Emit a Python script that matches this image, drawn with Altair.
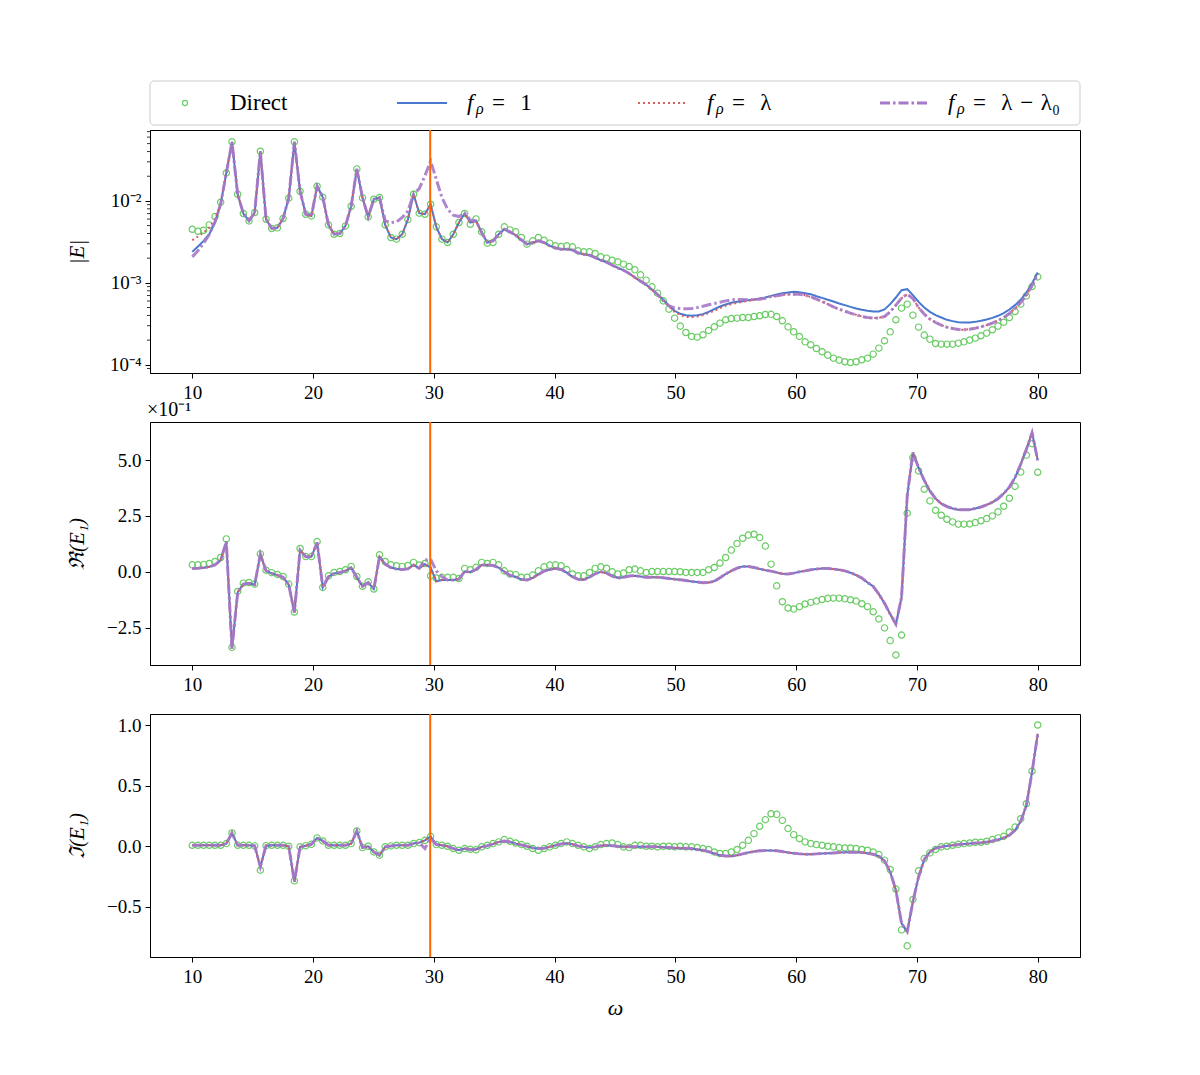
import numpy as np
import pandas as pd
import altair as alt

# ---------------- data ----------------
omega = np.round(np.linspace(10, 80, 150), 5)
omega_cut = 29.7

# panel 1: |E|, stored as log10 values
absE_direct_log10 = [
    -2.346, -2.370, -2.358, -2.293, -2.191, -2.016, -1.659, -1.280, -1.919, -2.154,
    -2.244, -2.142, -1.394, -2.224, -2.337, -2.329, -2.215, -1.967, -1.280, -1.882,
    -2.163, -2.183, -1.821, -1.955, -2.293, -2.407, -2.398, -2.305, -2.065, -1.610,
    -1.963, -2.195, -1.980, -1.959, -2.293, -2.447, -2.467, -2.407, -2.228, -1.919,
    -2.150, -2.163, -2.041, -2.317, -2.467, -2.508, -2.407, -2.264, -2.154, -2.285,
    -2.220, -2.378, -2.516, -2.508, -2.407, -2.317, -2.354, -2.378, -2.447, -2.528,
    -2.488, -2.447, -2.480, -2.516, -2.549, -2.557, -2.549, -2.561, -2.610, -2.622,
    -2.622, -2.642, -2.683, -2.699, -2.724, -2.744, -2.772, -2.801, -2.841, -2.902,
    -2.967, -3.049, -3.126, -3.220, -3.321, -3.431, -3.528, -3.606, -3.654, -3.663,
    -3.634, -3.581, -3.537, -3.492, -3.451, -3.435, -3.431, -3.423, -3.423, -3.411,
    -3.402, -3.386, -3.384, -3.411, -3.463, -3.537, -3.598, -3.654, -3.720, -3.756,
    -3.801, -3.841, -3.882, -3.919, -3.943, -3.963, -3.972, -3.963, -3.939, -3.919,
    -3.870, -3.797, -3.707, -3.598, -3.451, -3.309, -3.260, -3.394, -3.541, -3.638,
    -3.687, -3.740, -3.748, -3.748, -3.748, -3.736, -3.720, -3.699, -3.675, -3.646,
    -3.614, -3.573, -3.528, -3.480, -3.423, -3.350, -3.260, -3.159, -3.045, -2.927,
]
absE_f1_log10 = [
    -2.622, -2.557, -2.488, -2.407, -2.264, -2.041, -1.659, -1.280, -1.919, -2.154,
    -2.244, -2.142, -1.394, -2.224, -2.337, -2.329, -2.215, -1.967, -1.280, -1.882,
    -2.163, -2.183, -1.821, -1.955, -2.293, -2.407, -2.398, -2.305, -2.065, -1.610,
    -1.963, -2.195, -1.980, -1.959, -2.293, -2.447, -2.467, -2.407, -2.228, -1.919,
    -2.150, -2.163, -2.041, -2.317, -2.467, -2.508, -2.407, -2.264, -2.154, -2.264,
    -2.244, -2.386, -2.508, -2.488, -2.407, -2.346, -2.378, -2.419, -2.476, -2.528,
    -2.508, -2.488, -2.508, -2.549, -2.573, -2.589, -2.589, -2.598, -2.634, -2.650,
    -2.663, -2.691, -2.724, -2.748, -2.785, -2.817, -2.846, -2.886, -2.935, -2.980,
    -3.024, -3.081, -3.142, -3.207, -3.280, -3.341, -3.378, -3.394, -3.402, -3.394,
    -3.382, -3.354, -3.321, -3.289, -3.264, -3.244, -3.232, -3.224, -3.211, -3.203,
    -3.191, -3.179, -3.159, -3.142, -3.126, -3.118, -3.110, -3.114, -3.126, -3.138,
    -3.163, -3.183, -3.207, -3.228, -3.252, -3.272, -3.293, -3.313, -3.329, -3.341,
    -3.350, -3.350, -3.325, -3.260, -3.179, -3.089, -3.077, -3.150, -3.232, -3.301,
    -3.354, -3.394, -3.423, -3.451, -3.467, -3.480, -3.484, -3.484, -3.476, -3.463,
    -3.447, -3.427, -3.402, -3.370, -3.325, -3.272, -3.207, -3.118, -3.008, -2.874,
]
absE_flam_log10 = (
    [-2.480, -2.435, -2.386, -2.325, -2.224, -2.028]
    + absE_f1_log10[6:84]
    + [-3.289, -3.354, -3.394, -3.415, -3.419, -3.411,
       -3.394, -3.370, -3.341, -3.309, -3.280, -3.260, -3.244, -3.232, -3.220, -3.207,
       -3.195, -3.183, -3.167, -3.159, -3.146, -3.138, -3.138, -3.138, -3.150, -3.171,
       -3.199, -3.228, -3.260, -3.293, -3.321, -3.346, -3.370, -3.390, -3.411, -3.423,
       -3.431, -3.427, -3.411, -3.354, -3.272, -3.187, -3.138, -3.191, -3.301, -3.382,
       -3.443, -3.484, -3.516, -3.541, -3.557, -3.569, -3.573, -3.565, -3.553, -3.537,
       -3.516, -3.492, -3.459, -3.423, -3.374, -3.313, -3.240, -3.150, -3.037, -2.894]
)
absE_flam0_log10 = (
    [-2.683, -2.610, -2.516, -2.407, -2.256, -2.041]
    + absE_f1_log10[6:34]
    + [-2.244, -2.264, -2.256, -2.203, -2.122, -1.919, -1.850, -1.695, -1.512,
       -1.736, -1.959, -2.102, -2.175, -2.191, -2.150, -2.232, -2.244]
    + absE_f1_log10[51:83]
    + [-3.220, -3.280, -3.305, -3.313, -3.317, -3.313, -3.301, -3.285, -3.268,
       -3.252, -3.236, -3.220, -3.207, -3.203, -3.203, -3.207, -3.207, -3.199, -3.187]
    + absE_flam_log10[102:]
)

# panel 2: Re(E1), in units of 1e-1
reE_direct = [
    0.31, 0.31, 0.33, 0.37, 0.46, 0.64, 1.47, -3.38, -0.88, -0.51,
    -0.48, -0.55, 0.80, 0.07, -0.04, -0.12, -0.21, -0.55, -1.80, 1.04,
    0.68, 0.68, 1.35, -0.70, -0.18, -0.03, 0.01, 0.09, 0.24, -0.21,
    -0.65, -0.45, -0.77, 0.76, 0.46, 0.31, 0.27, 0.24, 0.28, 0.42,
    0.30, 0.37, -0.18, -0.28, -0.25, -0.25, -0.25, -0.30, 0.15, 0.09,
    0.20, 0.42, 0.37, 0.42, 0.31, 0.04, -0.10, -0.13, -0.25, -0.25,
    -0.15, 0.04, 0.22, 0.30, 0.31, 0.27, 0.10, -0.10, -0.18, -0.18,
    -0.03, 0.15, 0.22, 0.16, 0.00, -0.10, -0.06, 0.09, 0.12, 0.04,
    -0.03, 0.01, 0.01, 0.01, 0.01, 0.01, 0.00, -0.03, -0.03, -0.03,
    -0.03, 0.09, 0.19, 0.39, 0.64, 0.97, 1.26, 1.50, 1.64, 1.68,
    1.53, 1.15, 0.34, -0.63, -1.34, -1.62, -1.67, -1.56, -1.44, -1.37,
    -1.31, -1.24, -1.19, -1.18, -1.18, -1.21, -1.25, -1.31, -1.43, -1.56,
    -1.79, -2.11, -2.51, -3.08, -3.72, -2.83, 2.62, 5.10, 4.51, 3.69,
    3.17, 2.75, 2.53, 2.35, 2.23, 2.13, 2.13, 2.14, 2.20, 2.28,
    2.38, 2.50, 2.68, 2.93, 3.29, 3.82, 4.46, 5.22, 5.73, 4.45,
]
reE_f1 = [
    0.15, 0.16, 0.18, 0.22, 0.31, 0.52, 1.35, -3.45, -0.92, -0.55,
    -0.51, -0.58, 0.79, 0.04, -0.07, -0.15, -0.25, -0.58, -1.82, 0.97,
    0.67, 0.67, 1.31, -0.70, -0.22, -0.07, -0.03, 0.04, 0.19, -0.25,
    -0.65, -0.48, -0.77, 0.67, 0.34, 0.19, 0.12, 0.10, 0.13, 0.30,
    0.16, 0.34, 0.19, -0.43, -0.37, -0.37, -0.37, -0.33, 0.01, -0.01,
    0.10, 0.30, 0.31, 0.28, 0.19, 0.00, -0.16, -0.22, -0.34, -0.37,
    -0.27, -0.12, 0.03, 0.10, 0.15, 0.10, -0.04, -0.22, -0.34, -0.36,
    -0.24, -0.09, 0.00, -0.06, -0.19, -0.28, -0.25, -0.19, -0.18, -0.21,
    -0.25, -0.25, -0.25, -0.27, -0.30, -0.33, -0.36, -0.39, -0.43, -0.46,
    -0.49, -0.48, -0.42, -0.27, -0.10, 0.04, 0.16, 0.24, 0.24, 0.19,
    0.13, 0.07, 0.03, -0.03, -0.09, -0.10, -0.06, 0.00, 0.04, 0.09,
    0.12, 0.15, 0.15, 0.12, 0.09, 0.04, -0.04, -0.15, -0.28, -0.48,
    -0.65, -1.00, -1.41, -1.89, -2.34, -1.15, 3.40, 5.33, 4.66, 4.09,
    3.62, 3.27, 3.05, 2.92, 2.83, 2.78, 2.77, 2.78, 2.83, 2.90,
    2.99, 3.11, 3.27, 3.50, 3.79, 4.21, 4.81, 5.48, 6.22, 4.99,
]
reE_flam = list(reE_f1)
reE_flam0 = reE_f1[:41] + [0.52, 0.57, 0.04, -0.22] + reE_f1[45:]

# panel 3: Im(E1)
imE_direct = [
    0.008, 0.008, 0.008, 0.008, 0.008, 0.008, 0.022, 0.110, 0.008, 0.008,
    0.008, 0.003, -0.198, 0.005, 0.008, 0.008, 0.008, 0.000, -0.286, -0.005,
    0.005, 0.016, 0.069, 0.044, 0.008, 0.008, 0.008, 0.008, 0.022, 0.126,
    -0.011, 0.000, -0.047, -0.074, -0.005, 0.003, 0.008, 0.008, 0.008, 0.022,
    0.030, 0.049, 0.082, 0.014, 0.008, 0.000, -0.019, -0.033, -0.019, -0.025,
    -0.030, -0.005, 0.008, 0.022, 0.036, 0.055, 0.041, 0.027, 0.014, 0.000,
    -0.019, -0.033, -0.019, -0.005, 0.008, 0.022, 0.036, 0.022, 0.008, -0.005,
    -0.019, -0.005, 0.014, 0.022, 0.027, 0.014, -0.005, -0.011, 0.008, 0.008,
    0.000, 0.000, -0.005, 0.000, 0.000, -0.005, 0.000, -0.005, -0.005, -0.011,
    -0.019, -0.027, -0.047, -0.060, -0.060, -0.047, -0.027, 0.008, 0.049, 0.104,
    0.165, 0.220, 0.269, 0.264, 0.214, 0.146, 0.096, 0.063, 0.036, 0.022,
    0.014, 0.008, 0.000, -0.005, -0.011, -0.014, -0.014, -0.019, -0.027, -0.033,
    -0.047, -0.069, -0.115, -0.192, -0.354, -0.692, -0.824, -0.440, -0.203, -0.102,
    -0.055, -0.027, -0.005, 0.000, 0.008, 0.016, 0.022, 0.027, 0.033, 0.033,
    0.041, 0.055, 0.069, 0.082, 0.118, 0.159, 0.228, 0.352, 0.621, 1.003,
]
imE_f1 = (
    imE_direct[:12] + [-0.170] + imE_direct[13:18] + [-0.294] + imE_direct[19:40]
    + [0.030, 0.049, 0.082, 0.014, 0.008, 0.000, -0.019, -0.033, -0.019, -0.027]
    + [-0.027, -0.005, 0.005, 0.019, 0.036, 0.044, 0.036, 0.022, 0.011, 0.000,
       -0.014, -0.019, -0.016, -0.005, 0.008, 0.019, 0.025, 0.016, 0.003, -0.005,
       -0.011, -0.005, 0.005, 0.008, 0.005, 0.000, -0.005, -0.005, -0.005, -0.005,
       -0.005, -0.005, -0.005, -0.008, -0.011, -0.014, -0.016, -0.016, -0.019, -0.027,
       -0.033, -0.044, -0.060, -0.074, -0.080, -0.082, -0.074, -0.063, -0.052, -0.044,
       -0.038, -0.036, -0.036, -0.038, -0.044, -0.052, -0.058, -0.063, -0.066, -0.066,
       -0.063, -0.060, -0.058, -0.055, -0.052, -0.049, -0.049, -0.049, -0.052, -0.058,
       -0.066, -0.082, -0.121, -0.212, -0.363, -0.638, -0.706, -0.459, -0.253, -0.110,
       -0.047, -0.016, -0.005, 0.003, 0.008, 0.014, 0.019, 0.022, 0.027, 0.030,
       0.036, 0.044, 0.055, 0.069, 0.091, 0.132, 0.206, 0.338, 0.613, 0.929]
)
imE_flam = list(imE_f1)
imE_flam0 = imE_f1[:41] + [-0.019, 0.063] + imE_f1[43:]

for arr in [absE_direct_log10, absE_f1_log10, absE_flam_log10, absE_flam0_log10,
            reE_direct, reE_f1, reE_flam, reE_flam0,
            imE_direct, imE_f1, imE_flam, imE_flam0]:
    assert len(arr) == 150, len(arr)

series_labels = ["Direct", "fρ = 1", "fρ = λ", "fρ = λ − λ₀"]
legend_rhs = ["=\u2004\u20041", "=\u2004\u2004λ", "=\u2004\u2004λ\u2004−\u2004λ₀"]
x_ticks = [10, 20, 30, 40, 50, 60, 70, 80]
log_major = [1e-4, 1e-3, 1e-2]
log_minor = [m * 10.0 ** e for e in (-5, -4, -3, -2) for m in range(2, 10)
             if 8.5e-5 < m * 10.0 ** e < 7.2e-2]

# ---------------- style ----------------
FONT = "Liberation Serif"
W, H = 930, 243
C_DIRECT = "#6acc64"
C_F1 = "#4878d0"
C_FLAM = "#d65f5f"
C_FLAM0 = "#a678c8"
C_CUT = "#ff6600"
DASH_DOT = [10, 3, 2.5, 3]
DOT = [2, 3]

x_scale = alt.Scale(domain=[6.5, 83.5], nice=False, zero=False)


def x_enc(title=None):
    return alt.X("omega:Q", scale=x_scale,
                 axis=alt.Axis(values=x_ticks, format="d", tickSize=5, labelPadding=5,
                               titlePadding=11, titleFontStyle="italic", titleFontSize=22),
                 title=title)


def panel(direct, f1, flam, flam0, yscale, yaxis, ytitle, xtitle=None, transform=None):
    df = pd.DataFrame({"omega": omega, "direct": direct, "f1": f1,
                       "flam": flam, "flam0": flam0})
    base = alt.Chart(df)
    if transform is not None:
        base = base.transform_calculate(**transform)

    def y(field):
        return alt.Y(f"{field}:Q", scale=yscale, axis=yaxis, title=ytitle)

    pts = base.mark_point(shape="circle", filled=False, size=40, strokeWidth=1.2,
                          color=C_DIRECT, opacity=1).encode(x=x_enc(xtitle), y=y("direct"))
    l1 = base.mark_line(color=C_F1, strokeWidth=2).encode(x=x_enc(xtitle), y=y("f1"))
    l2 = base.mark_line(color=C_FLAM, strokeWidth=2, strokeDash=DOT).encode(
        x=x_enc(xtitle), y=y("flam"))
    l3 = base.mark_line(color=C_FLAM0, strokeWidth=3, strokeDash=DASH_DOT,
                        opacity=0.9).encode(x=x_enc(xtitle), y=y("flam0"))
    cut = alt.Chart(pd.DataFrame({"omega": [omega_cut]})).mark_rule(
        color=C_CUT, strokeWidth=2).encode(x=x_enc(xtitle))
    return [pts, l1, l2, l3, cut]


def y_axis(values, **kw):
    return alt.Axis(values=values, tickSize=5, labelPadding=4, titlePadding=8,
                    minExtent=55, maxExtent=55, titleFontStyle="italic", **kw)


# panel 1 (log |E|)
log_domain = [10 ** -4.10, 10 ** -1.135]
p1_layers = panel(
    absE_direct_log10, absE_f1_log10, absE_flam_log10, absE_flam0_log10,
    yscale=alt.Scale(type="log", domain=log_domain, nice=False),
    yaxis=y_axis(log_major,
                 labelExpr="datum.value < 0.0005 ? '10⁻⁴' : (datum.value < 0.005 ? '10⁻³' : '10⁻²')"),
    ytitle="|E|",
    transform={"direct": "pow(10, datum.direct)", "f1": "pow(10, datum.f1)",
               "flam": "pow(10, datum.flam)", "flam0": "pow(10, datum.flam0)"},
)
minor = alt.Chart(pd.DataFrame({"v": log_minor})).mark_rule(
    color="black", strokeWidth=0.8).encode(
    y=alt.Y("v:Q", scale=alt.Scale(type="log", domain=log_domain, nice=False)),
    x=alt.value(0), x2=alt.value(-3))

# legend drawn above panel 1
one = pd.DataFrame({"a": [0]})
LY = -27
leg_layers = [alt.Chart(one).mark_rect(
    fill="white", stroke="#cccccc", strokeWidth=1, cornerRadius=4).encode(
    x=alt.value(0), x2=alt.value(W), y=alt.value(-49), y2=alt.value(-5))]
leg_layers.append(alt.Chart(one).mark_point(
    shape="circle", filled=False, size=26, strokeWidth=1.2, color=C_DIRECT, opacity=1).encode(
    x=alt.value(35), y=alt.value(LY)))
line_specs = [(C_F1, None, 2, 247), (C_FLAM, DOT, 2, 488), (C_FLAM0, DASH_DOT, 3, 730)]
for c, dash, sw, x0 in line_specs:
    kw = dict(color=c, strokeWidth=sw)
    if dash is not None:
        kw["strokeDash"] = dash
    leg_layers.append(alt.Chart(one).mark_rule(**kw).encode(
        x=alt.value(x0), x2=alt.value(x0 + 50), y=alt.value(LY)))


def leg_text(txt, x, y, size=23, style="normal"):
    return alt.Chart(pd.DataFrame({"t": [txt]})).mark_text(
        align="left", baseline="middle", font=FONT, fontSize=size, color="black",
        fontStyle=style).encode(x=alt.value(x), y=alt.value(y), text="t:N")


leg_layers.append(leg_text(series_labels[0], 80, LY))
for rhs, tx in zip(legend_rhs, [317, 557, 798]):
    leg_layers.append(leg_text("f", tx, LY, style="italic"))
    leg_layers.append(leg_text("ρ", tx + 9, LY + 6, size=16, style="italic"))
    leg_layers.append(leg_text(rhs, tx + 25, LY))

p1 = alt.layer(*p1_layers, minor, *leg_layers).properties(width=W, height=H)

# panel 2
p2_layers = panel(
    reE_direct, reE_f1, reE_flam, reE_flam0,
    yscale=alt.Scale(domain=[-4.17, 6.70], nice=False, zero=False),
    yaxis=y_axis([-2.5, 0.0, 2.5, 5.0], format=".1f"),
    ytitle="ℜ(E₁)",
)
factor = alt.Chart(pd.DataFrame({"t": ["×10⁻¹"]})).mark_text(
    align="left", baseline="bottom", font=FONT, fontSize=20, color="black").encode(
    x=alt.value(-3), y=alt.value(-2), text="t:N")
p2 = alt.layer(*p2_layers, factor).properties(width=W, height=H)

# panel 3
p3_layers = panel(
    imE_direct, imE_f1, imE_flam, imE_flam0,
    yscale=alt.Scale(domain=[-0.916, 1.094], nice=False, zero=False),
    yaxis=y_axis([-0.5, 0.0, 0.5, 1.0], format=".1f"),
    ytitle="ℑ(E₁)", xtitle="ω",
)
p3 = alt.layer(*p3_layers).properties(width=W, height=H)

chart = alt.vconcat(p1, p2, p3, spacing=49, bounds="flush").properties(
    padding={"left": 57, "top": 72, "right": 10, "bottom": 10}
).configure_view(stroke="black", strokeWidth=1).configure_axis(
    labelFont=FONT, titleFont=FONT, labelFontSize=19, titleFontSize=21,
    titleFontWeight="normal", labelColor="black", titleColor="black",
    tickColor="black", domainColor="black", grid=False, tickWidth=1, domainWidth=1,
)

chart.save("out.html", embed_options={"renderer": "svg", "actions": False})
